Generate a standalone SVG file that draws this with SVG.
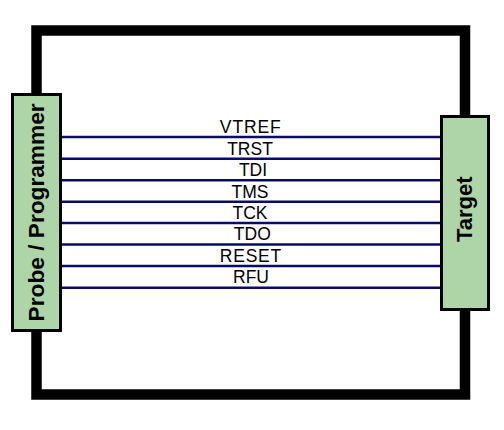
<svg xmlns="http://www.w3.org/2000/svg" width="504" height="430" viewBox="0 0 504 430">
<style>
.frame{fill:none;stroke:#000;stroke-width:10.5}
.box{fill:#add5a7;stroke:#000;stroke-width:3}
.sig{stroke:#0a0a6b;stroke-width:2.5}
.lbl{font-family:"Liberation Sans",Arial,sans-serif;font-size:17.5px;fill:#000;text-anchor:middle}
.title{font-family:"Liberation Sans",Arial,sans-serif;font-size:22px;font-weight:bold;fill:#000;text-anchor:middle}
</style>
<rect width="504" height="430" fill="#fff"/>
<rect class="frame" x="36.5" y="30.5" width="428.5" height="364"/>
<g id="connectors">
<line class="sig" x1="62" y1="137" x2="440" y2="137"/>
<line class="sig" x1="62" y1="158.7" x2="440" y2="158.7"/>
<line class="sig" x1="62" y1="180.3" x2="440" y2="180.3"/>
<line class="sig" x1="62" y1="201.7" x2="440" y2="201.7"/>
<line class="sig" x1="62" y1="223" x2="440" y2="223"/>
<line class="sig" x1="62" y1="244.5" x2="440" y2="244.5"/>
<line class="sig" x1="62" y1="266" x2="440" y2="266"/>
<line class="sig" x1="62" y1="287.7" x2="440" y2="287.7"/>
<text class="lbl" x="250.3" y="133.3" textLength="61" lengthAdjust="spacing">VTREF</text>
<text class="lbl" x="250" y="154.8">TRST</text>
<text class="lbl" x="253" y="176.4">TDI</text>
<text class="lbl" x="250" y="197.8">TMS</text>
<text class="lbl" x="250" y="219.1">TCK</text>
<text class="lbl" x="252.3" y="240.3">TDO</text>
<text class="lbl" x="250.5" y="261.9" textLength="61.5" lengthAdjust="spacing">RESET</text>
<text class="lbl" x="251" y="283.4">RFU</text>
</g>
<g id="probe">
<rect class="box" x="12.5" y="94.5" width="48" height="236"/>
<text class="title" transform="translate(43.5 212.4) rotate(-90)" textLength="218" lengthAdjust="spacingAndGlyphs">Probe / Programmer</text>
</g>
<g id="target">
<rect class="box" x="441.5" y="116.5" width="47" height="193"/>
<text class="title" transform="translate(471.5 209.2) rotate(-90)">Target</text>
</g>
</svg>
